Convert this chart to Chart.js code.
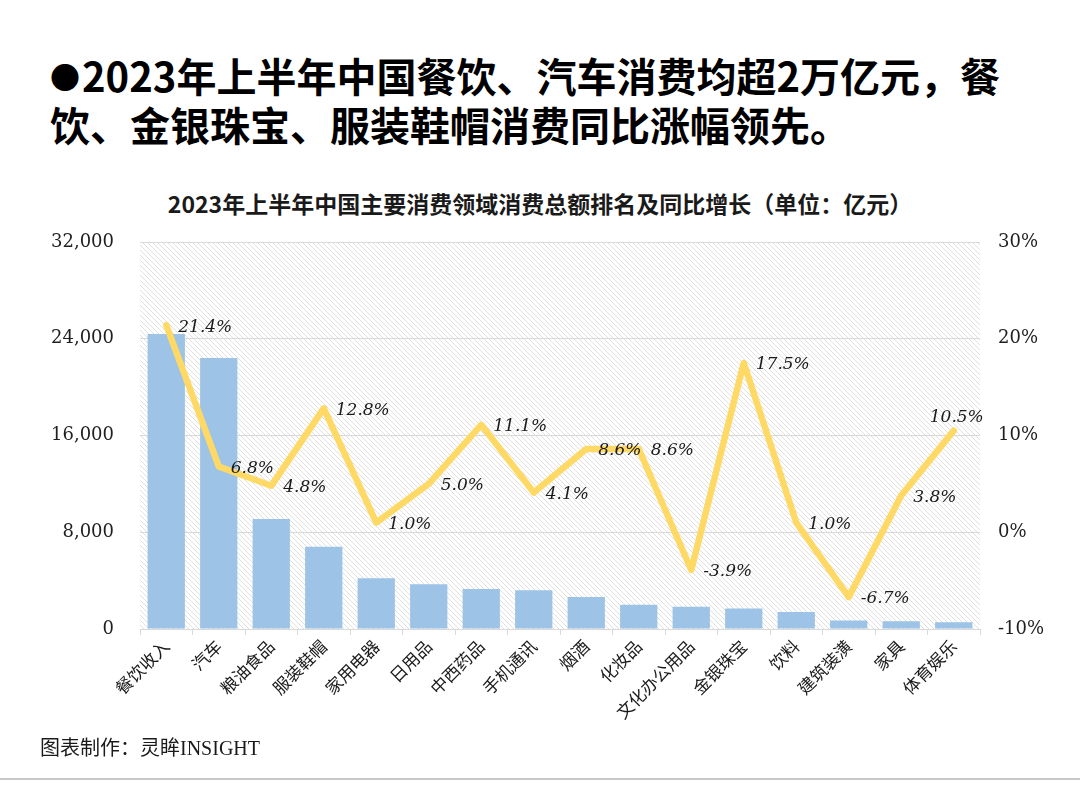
<!DOCTYPE html>
<html>
<head>
<meta charset="utf-8">
<script src="https://cdn.jsdelivr.net/npm/chart.js@4"></script>
<style>
  html, body { margin: 0; padding: 0; background: #fff; }
  body { width: 1080px; height: 795px; position: relative; overflow: hidden; }
  #headline { position: absolute; left: 50px; top: 51px; font: 700 40px "Noto Sans CJK SC", sans-serif; line-height: 48px; white-space: nowrap; color: #000; }
  #headline .dot { font-size: 30px; vertical-align: 3px; margin-right: 2px; }
  #ctitle { position: absolute; left: 0; top: 190px; width: 1080px; text-align: center; font: 700 23px "Noto Sans CJK SC", sans-serif; line-height: 26px; color: #1a1a1a; }
  #footer { position: absolute; left: 40px; top: 737px; font: 20px "Liberation Serif", "Noto Sans CJK SC", serif; line-height: 22px; color: #1a1a1a; }
  #rule { position: absolute; left: 0; top: 778px; width: 1080px; height: 2px; background: #c8c8c8; }
  #c { position: absolute; left: 0; top: 0; }
</style>
</head>
<body>
<div id="headline"><span class="dot">●</span>2023年上半年中国餐饮、汽车消费均超2万亿元，餐<br>饮、金银珠宝、服装鞋帽消费同比涨幅领先。</div>
<div id="ctitle">2023年上半年中国主要消费领域消费总额排名及同比增长（单位：亿元）</div>
<canvas id="c" width="1080" height="795"></canvas>
<div id="footer">图表制作：灵眸INSIGHT</div>
<div id="rule"></div>
<script>
const categories = ['餐饮收入','汽车','粮油食品','服装鞋帽','家用电器','日用品','中西药品','手机通讯','烟酒','化妆品','文化办公用品','金银珠宝','饮料','建筑装潢','家具','体育娱乐'];
const totals = [24400,22400,9100,6800,4200,3700,3300,3200,2650,2000,1850,1700,1400,700,650,550];
const growth = [21.4,6.8,4.8,12.8,1.0,5.0,11.1,4.1,8.6,8.6,-3.9,17.5,1.0,-6.7,3.8,10.5];
const leftTicks = [0,8000,16000,24000,32000];
const rightTicks = [-10,0,10,20,30];

const hatchPlugin = {
  id: 'hatch',
  beforeDraw(chart) {
    const {ctx, chartArea: a} = chart;
    const p = document.createElement('canvas');
    p.width = 5; p.height = 5;
    const pc = p.getContext('2d');
    pc.fillStyle = '#ffffff';
    pc.fillRect(0,0,5,5);
    pc.strokeStyle = '#e0e0e0';
    pc.lineWidth = 1;
    pc.beginPath();
    pc.moveTo(-1,-1); pc.lineTo(6,6);
    pc.moveTo(-1,4); pc.lineTo(1,6);
    pc.moveTo(4,-1); pc.lineTo(6,1);
    pc.stroke();
    ctx.save();
    ctx.fillStyle = ctx.createPattern(p, 'repeat');
    ctx.fillRect(a.left, a.top, a.right - a.left, a.bottom - a.top);
    ctx.restore();
  }
};

const labelPlugin = {
  id: 'lineLabels',
  afterDatasetsDraw(chart) {
    const ctx = chart.ctx;
    const meta = chart.getDatasetMeta(1);
    ctx.save();
    ctx.font = 'italic 17px "DejaVu Serif", serif';
    ctx.fillStyle = '#1a1a1a';
    ctx.textBaseline = 'middle';
    meta.data.forEach((pt, i) => {
      const txt = growth[i].toFixed(1) + '%';
      if (i === meta.data.length - 1) {
        ctx.textAlign = 'center';
        ctx.fillText(txt, pt.x + 3, pt.y - 13);
      } else {
        ctx.textAlign = 'left';
        ctx.fillText(txt, pt.x + 12, pt.y + 2);
      }
    });
    ctx.restore();
  }
};

new Chart(document.getElementById('c'), {
  data: {
    labels: categories,
    datasets: [
      {
        type: 'bar',
        data: totals,
        backgroundColor: '#9DC3E6',
        yAxisID: 'y',
        order: 2,
        categoryPercentage: 0.71,
        barPercentage: 1.0
      },
      {
        type: 'line',
        data: growth,
        borderColor: '#FFD966',
        borderWidth: 6.5,
        pointRadius: 0,
        tension: 0,
        borderCapStyle: 'round',
        borderJoinStyle: 'round',
        yAxisID: 'y1',
        order: 1
      }
    ]
  },
  options: {
    responsive: false,
    animation: false,
    devicePixelRatio: 1,
    layout: { padding: { top: 242, bottom: 66, left: 0, right: 0 } },
    plugins: { legend: { display: false }, tooltip: { enabled: false }, title: { display: false } },
    scales: {
      x: {
        afterFit(s) { s.height = 100; },
        grid: { display: true, drawOnChartArea: false, color: '#d9d9d9', tickLength: 6, offset: true },
        border: { color: '#d9d9d9' },
        ticks: {
          autoSkip: false, minRotation: 45, maxRotation: 45, padding: 1,
          color: '#1a1a1a', font: { family: '"Noto Sans CJK SC", sans-serif', size: 17 }
        }
      },
      y: {
        position: 'left',
        min: leftTicks[0], max: leftTicks[leftTicks.length - 1],
        afterFit(s) { s.width = 140; },
        afterBuildTicks(s) { s.ticks = leftTicks.map(v => ({ value: v })); },
        grid: { color: '#d9d9d9', drawTicks: false },
        border: { display: false },
        ticks: {
          padding: 26, color: '#1f1f1f',
          font: { family: '"DejaVu Serif", serif', size: 18 },
          callback: v => v.toLocaleString('en-US')
        }
      },
      y1: {
        position: 'right',
        min: rightTicks[0], max: rightTicks[rightTicks.length - 1],
        afterFit(s) { s.width = 100; },
        afterBuildTicks(s) { s.ticks = rightTicks.map(v => ({ value: v })); },
        grid: { display: false, drawTicks: false },
        border: { display: false },
        ticks: {
          padding: 18, color: '#1f1f1f',
          font: { family: '"DejaVu Serif", serif', size: 18 },
          callback: v => v + '%'
        }
      }
    }
  },
  plugins: [hatchPlugin, labelPlugin]
});
</script>
</body>
</html>
